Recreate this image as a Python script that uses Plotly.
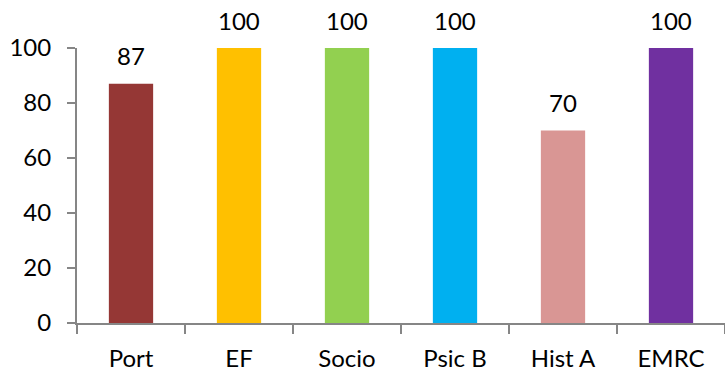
import plotly.graph_objects as go

categories = ["Port", "EF", "Socio", "Psic B", "Hist A", "EMRC"]
values = [87, 100, 100, 100, 70, 100]
bar_colors = ["#953735", "#FFC000", "#92D050", "#00B0F0", "#D99694", "#7030A0"]
y_ticks = [0, 20, 40, 60, 80, 100]

FONT = "Lato"
FS = 24
AXIS_COLOR = "#868686"

fig = go.Figure()
fig.add_trace(go.Bar(
    x=categories,
    y=values,
    marker=dict(color=bar_colors, line=dict(width=0)),
    width=0.41,
    showlegend=False,
    hoverinfo="skip",
))

for c, v in zip(categories, values):
    fig.add_annotation(
        x=c, y=v, text=str(v), showarrow=False,
        xanchor="center", yanchor="middle", yshift=28,
        font=dict(family=FONT, size=FS, color="#000000"),
    )

fig.update_layout(
    width=725, height=371,
    margin=dict(l=77, r=0, t=48, b=48),
    paper_bgcolor="white",
    plot_bgcolor="white",
    font=dict(family=FONT, size=FS, color="#000000"),
)
fig.update_xaxes(
    type="category", automargin=False,
    showline=True, linecolor=AXIS_COLOR, linewidth=2,
    ticks="outside", tickson="boundaries", ticklen=9, tickwidth=2, tickcolor=AXIS_COLOR,
    showgrid=False, zeroline=False,
    ticklabelstandoff=13,
    tickfont=dict(family=FONT, size=FS, color="#000000"),
)
fig.update_yaxes(
    range=[0, 100], automargin=False,
    tickvals=y_ticks,
    showline=True, linecolor=AXIS_COLOR, linewidth=2,
    ticks="outside", ticklen=8, tickwidth=2, tickcolor=AXIS_COLOR,
    showgrid=False, zeroline=False,
    ticklabelstandoff=11,
    tickfont=dict(family=FONT, size=FS, color="#000000"),
)

# remove the browser's default 8px body margin so the figure fills the window
fig.write_html(
    "out.html",
    config={"displayModeBar": False, "staticPlot": True},
    post_script="document.body.style.margin='0';document.body.style.overflow='hidden';",
)
